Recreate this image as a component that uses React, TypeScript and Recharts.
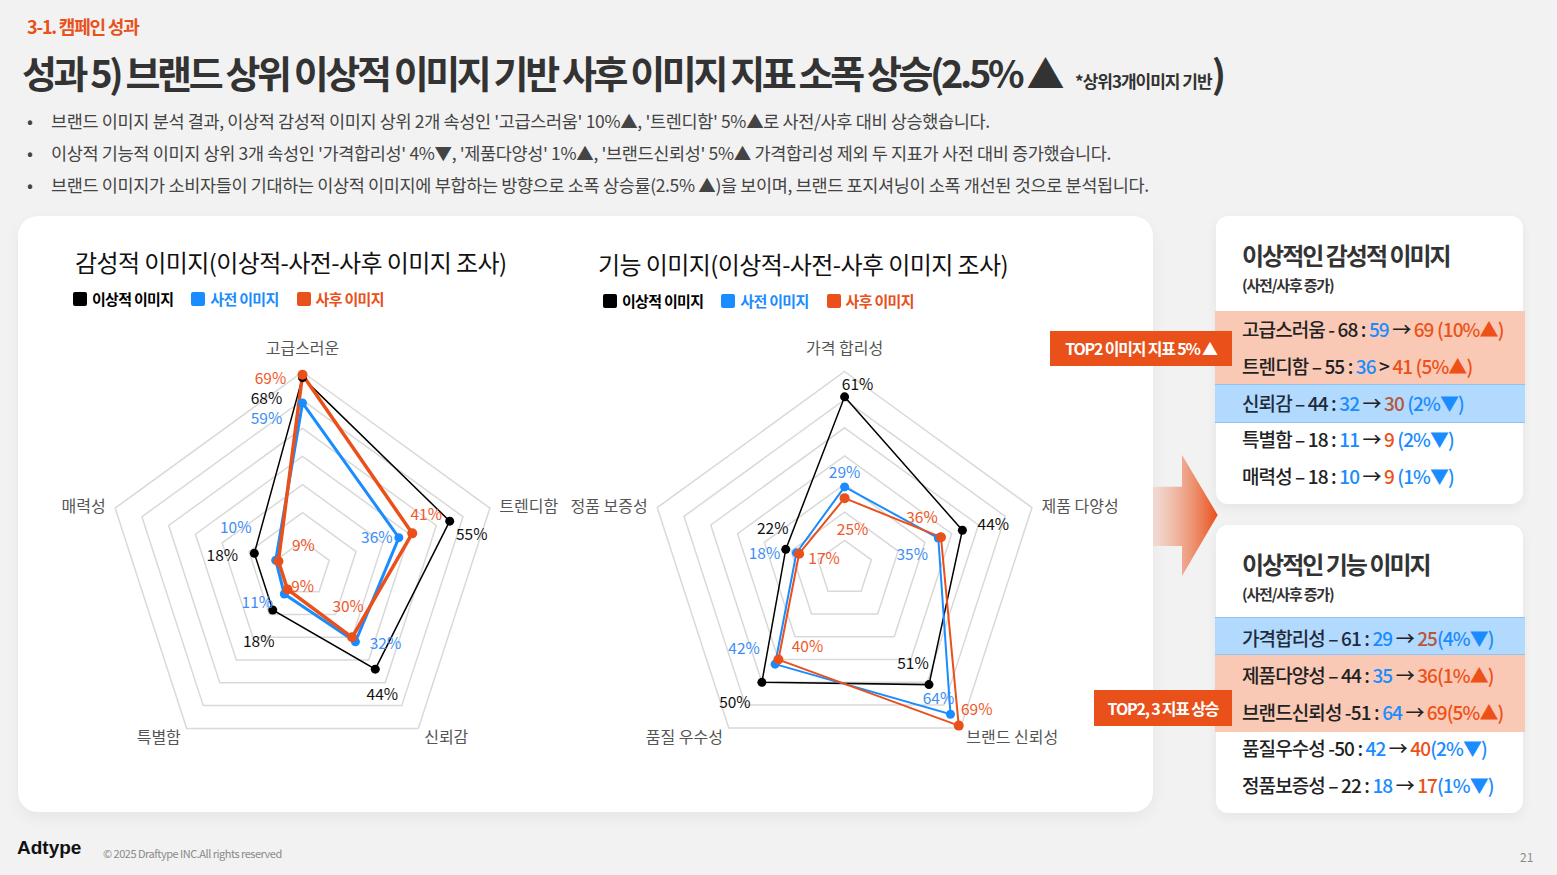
import React from 'react';
import { RadarChart, Radar, PolarGrid, PolarAngleAxis, PolarRadiusAxis } from 'recharts';

// ---------- DATA ----------
const emoCategories = ['고급스러운', '트렌디함', '신뢰감', '특별함', '매력성'];
const emoIdeal = [68, 55, 44, 18, 18];
const emoBefore = [59, 36, 32, 11, 10];
const emoAfter = [69, 41, 30, 9, 9];

const funcCategories = ['가격 합리성', '제품 다양성', '브랜드 신뢰성', '품질 우수성', '정품 보증성'];
const funcIdeal = [61, 44, 51, 50, 22];
const funcBefore = [29, 35, 64, 42, 18];
const funcAfter = [25, 36, 69, 40, 17];

const radiusDomain = [0, 70];

const seriesNames = ['이상적 이미지', '사전 이미지', '사후 이미지'];

// label nudges relative to each computed point (dx, dy)
const emoLabelNudge = {
  ideal: [[-36, 19], [22, 12], [7, 24], [-14, 30], [-32, 1]],
  before: [[-36, 14], [-22, -2], [30, 0], [-27, 7], [-40, -34]],
  after: [[-32, 2], [14, -20], [-4, -32], [15, -4], [25, -17]],
};
const funcLabelNudge = {
  ideal: [[13, -14], [31, -7], [-16, -23], [-27, 19], [-13, -22]],
  before: [[0, -16], [-26, 15], [-12, -17], [-31, -17], [-32, -1]],
  after: [[8, 30], [-19, -21], [18, -18], [29, -15], [25, 3]],
};

// ---------- STYLE ----------
const FONT = "'Noto Sans CJK KR', 'Noto Sans', sans-serif";
const C_BLACK = '#000000';
const C_BLUE = '#1A8CFF';
const C_ORANGE = '#E9501A';
const C_BLUE_TXT = '#3D8EF7';
const C_ORANGE_TXT = '#F0592A';

type RadarProps = {
  categories: string[];
  ideal: number[];
  before: number[];
  after: number[];
  nudge: any;
  left: number;
  top: number;
  width: number;
  height: number;
  cx: number;
  cy: number;
  widths: number[];
};

function RadarBlock(p: RadarProps) {
  const data = p.categories.map((c, i) => ({ name: c, ideal: p.ideal[i], before: p.before[i], after: p.after[i] }));

  const makeDot = (key: string, color: string, r: number, txtColor: string) => (props: any) => {
    const { cx, cy, index } = props;
    const n = p.nudge[key][index];
    const v = (data[index] as any)[key];
    return (
      <g key={`${key}-${index}`}>
        <circle cx={cx} cy={cy} r={r} fill={color} />
        <text x={cx + n[0]} y={cy + n[1]} textAnchor="middle" dominantBaseline="central" fill={txtColor} fontSize={15.5} fontFamily={FONT}>
          {v}%
        </text>
      </g>
    );
  };

  const AngleTick = (props: any) => {
    const { x, y, textAnchor, payload } = props;
    const isTop = textAnchor === 'middle' && y < p.cy;
    return (
      <text x={x} y={isTop ? y - 15 : y} textAnchor={textAnchor} dominantBaseline="central" fill="#555" fontSize={16} fontFamily={FONT}>
        {payload.value}
      </text>
    );
  };

  return (
    <div style={{ position: 'absolute', left: p.left, top: p.top, width: p.width, height: p.height }}>
      <RadarChart width={p.width} height={p.height} data={data} cx={p.cx} cy={p.cy} outerRadius={197} margin={{ top: 0, right: 0, bottom: 0, left: 0 }}>
        <PolarGrid gridType="polygon" radialLines={false} stroke="#D9D9D9" strokeWidth={1.5} />
        <PolarAngleAxis dataKey="name" tickSize={10} tickLine={false} axisLine={false} tick={<AngleTick />} />
        <PolarRadiusAxis domain={radiusDomain} tickCount={8} tick={false} axisLine={false} />
        <Radar name={seriesNames[0]} dataKey="ideal" stroke={C_BLACK} strokeWidth={p.widths[0]} fill="none" fillOpacity={0} isAnimationActive={false} dot={makeDot('ideal', C_BLACK, 4.5, '#111')} />
        <Radar name={seriesNames[1]} dataKey="before" stroke={C_BLUE} strokeWidth={p.widths[1]} fill="none" fillOpacity={0} isAnimationActive={false} dot={makeDot('before', C_BLUE, 4.5, C_BLUE_TXT)} />
        <Radar name={seriesNames[2]} dataKey="after" stroke={C_ORANGE} strokeWidth={p.widths[2]} fill="none" fillOpacity={0} isAnimationActive={false} dot={makeDot('after', C_ORANGE, 5, C_ORANGE_TXT)} />
      </RadarChart>
    </div>
  );
}

function Legend({ left, top }: { left: number; top: number }) {
  const items = [
    { label: seriesNames[0], color: C_BLACK, txt: '#000' },
    { label: seriesNames[1], color: C_BLUE, txt: C_BLUE },
    { label: seriesNames[2], color: C_ORANGE, txt: C_ORANGE },
  ];
  return (
    <div style={{ position: 'absolute', left, top, display: 'flex', alignItems: 'center', gap: 18, fontFamily: FONT }}>
      {items.map((it) => (
        <div key={it.label} style={{ display: 'flex', alignItems: 'center', gap: 5 }}>
          <div style={{ width: 14, height: 14, borderRadius: 2, background: it.color }} />
          <span style={{ fontSize: 15, fontWeight: 700, color: it.txt, letterSpacing: -0.7 }}>{it.label}</span>
        </div>
      ))}
    </div>
  );
}

type Seg = [string, string];
const DK = '#222';
const BL = '#1A8CFF';
const OR = '#EE5117';
const BR = '#B5573A';

const emoRows: { segs: Seg[] }[] = [
  { segs: [['고급스러움 - 68 : ', DK], ['59', BL], [' → ', DK], ['69 (10%▲)', OR]] },
  { segs: [['트렌디함 – 55 : ', DK], ['36', BL], [' > ', DK], ['41 (5%▲)', OR]] },
  { segs: [['신뢰감 – 44 : ', '#1E2B3A'], ['32', BL], [' → ', DK], ['30', BR], [' (2%▼)', BL]] },
  { segs: [['특별함 – 18 : ', DK], ['11', BL], [' → ', DK], ['9', OR], [' (2%▼)', BL]] },
  { segs: [['매력성 – 18 : ', DK], ['10', BL], [' → ', DK], ['9', OR], [' (1%▼)', BL]] },
];
const funcRows: { segs: Seg[] }[] = [
  { segs: [['가격합리성 – 61 : ', '#1E2B3A'], ['29', BL], [' → ', DK], ['25', BR], ['(4%▼)', BL]] },
  { segs: [['제품다양성 – 44 : ', DK], ['35', BL], [' → ', DK], ['36(1%▲)', OR]] },
  { segs: [['브랜드신뢰성 -51 : ', DK], ['64', BL], [' → ', DK], ['69(5%▲)', OR]] },
  { segs: [['품질우수성 -50 : ', DK], ['42', BL], [' → ', DK], ['40', OR], ['(2%▼)', BL]] },
  { segs: [['정품보증성 – 22 : ', DK], ['18', BL], [' → ', DK], ['17', OR], ['(1%▼)', BL]] },
];

function Panel({ top, title, rows, bands, rowTop }: { top: number; title: string; rows: { segs: Seg[] }[]; bands: { y: number; h: number; c: string; b?: string }[]; rowTop: number }) {
  return (
    <>
      <div style={{ position: 'absolute', left: 1216, top, width: 307, height: 288, background: '#fff', borderRadius: 12, boxShadow: '0 4px 12px rgba(0,0,0,0.06)' }} />
      {bands.map((b, i) => (
        <div key={i} style={{ position: 'absolute', left: 1215, top: b.y, width: 310, height: b.h, background: b.c, borderTop: b.b ? `1px solid ${b.b}` : undefined, borderBottom: b.b ? `1px solid ${b.b}` : undefined, boxSizing: 'border-box' }} />
      ))}
      <div style={{ position: 'absolute', left: 1242, top: top + 21, fontSize: 24, fontWeight: 700, color: '#333', letterSpacing: -2, fontFamily: FONT, whiteSpace: 'nowrap' }}>{title}</div>
      <div style={{ position: 'absolute', left: 1242, top: top + 58, fontSize: 15, fontWeight: 700, color: '#333', letterSpacing: -1.2, fontFamily: FONT, whiteSpace: 'nowrap' }}>(사전/사후 증가)</div>
      {rows.map((r, i) => (
        <div key={i} style={{ position: 'absolute', left: 1242, top: rowTop + i * 36.8 - 14, height: 28, lineHeight: '28px', fontSize: 19, fontWeight: 500, letterSpacing: -0.9, fontFamily: FONT, whiteSpace: 'nowrap' }}>
          {r.segs.map((s, j) => (
            <span key={j} style={{ color: s[1] }}>{s[0]}</span>
          ))}
        </div>
      ))}
    </>
  );
}

export default function App() {
  return (
    <div style={{ position: 'absolute', left: 0, top: 0, width: 1557, height: 875, background: '#F2F2F2', overflow: 'hidden', fontFamily: FONT }}>
      {/* header */}
      <div style={{ position: 'absolute', left: 27, top: 13, fontSize: 18, fontWeight: 700, color: '#E9501A', letterSpacing: -1.2, whiteSpace: 'nowrap' }}>3-1. 캠페인 성과</div>
      <div style={{ position: 'absolute', left: 22, top: 44, whiteSpace: 'nowrap', color: '#333', fontWeight: 700, display: 'flex', alignItems: 'baseline' }}>
        <span style={{ fontSize: 38, letterSpacing: -3.4 }}>성과 5) 브랜드 상위 이상적 이미지 기반 사후 이미지 지표 소폭 상승(2.5% ▲</span>
        <span style={{ fontSize: 17, letterSpacing: -1, marginLeft: 14 }}>*상위3개이미지 기반</span>
        <span style={{ fontSize: 38 }}>)</span>
      </div>
      {[
        "브랜드 이미지 분석 결과, 이상적 감성적 이미지 상위 2개 속성인 '고급스러움' 10%▲, '트렌디함' 5%▲로 사전/사후 대비 상승했습니다.",
        "이상적 기능적 이미지 상위 3개 속성인 '가격합리성' 4%▼, '제품다양성' 1%▲, '브랜드신뢰성' 5%▲ 가격합리성 제외 두 지표가 사전 대비 증가했습니다.",
        '브랜드 이미지가 소비자들이 기대하는 이상적 이미지에 부합하는 방향으로 소폭 상승률(2.5% ▲)을 보이며, 브랜드 포지셔닝이 소폭 개선된 것으로 분석됩니다.',
      ].map((t, i) => (
        <div key={i} style={{ position: 'absolute', left: 27, top: 109 + i * 32, height: 24, lineHeight: '24px', fontSize: 17.5, color: '#444', letterSpacing: -0.35, whiteSpace: 'nowrap' }}>
          <span style={{ display: 'inline-block', width: 24 }}>•</span>
          {t}
        </div>
      ))}

      {/* chart card */}
      <div style={{ position: 'absolute', left: 18, top: 216, width: 1135, height: 596, background: '#fff', borderRadius: 20, boxShadow: '0 6px 16px rgba(0,0,0,0.05)' }} />
      <div style={{ position: 'absolute', left: 75, top: 244, fontSize: 24, color: '#111', letterSpacing: -0.6, whiteSpace: 'nowrap' }}>감성적 이미지(이상적-사전-사후 이미지 조사)</div>
      <div style={{ position: 'absolute', left: 598, top: 246, fontSize: 24, color: '#111', letterSpacing: -0.6, whiteSpace: 'nowrap' }}>기능 이미지(이상적-사전-사후 이미지 조사)</div>
      <Legend left={73} top={288} />
      <Legend left={603} top={290} />

      <RadarBlock categories={emoCategories} ideal={emoIdeal} before={emoBefore} after={emoAfter} nudge={emoLabelNudge}
        left={20} top={320} width={560} height={480} cx={282.5} cy={249} widths={[1.5, 3, 3.5]} />
      <RadarBlock categories={funcCategories} ideal={funcIdeal} before={funcBefore} after={funcAfter} nudge={funcLabelNudge}
        left={560} top={320} width={580} height={480} cx={284.6} cy={248.5} widths={[1.5, 2, 2]} />

      {/* arrow */}
      <svg style={{ position: 'absolute', left: 1150, top: 440 }} width={75} height={145}>
        <defs>
          <linearGradient id="ag" x1="0" y1="0" x2="1" y2="0">
            <stop offset="0" stopColor="#F2CFC2" stopOpacity={0.6} />
            <stop offset="1" stopColor="#E9501A" />
          </linearGradient>
        </defs>
        <polygon points="3,46.7 32,46.7 32,15 67.7,75 32,136 32,106 3,106" fill="url(#ag)" />
      </svg>

      <Panel top={216} title="이상적인 감성적 이미지" rows={emoRows} rowTop={329}
        bands={[{ y: 311, h: 73, c: '#F9C9B5' }, { y: 384, h: 39, c: '#B2D9FE', b: '#8FC2F5' }]} />
      <Panel top={525} title="이상적인 기능 이미지" rows={funcRows} rowTop={638}
        bands={[{ y: 617, h: 38, c: '#B2D9FE', b: '#8FC2F5' }, { y: 655, h: 77, c: '#F9C9B5' }]} />

      {/* tags */}
      <div style={{ position: 'absolute', left: 1050, top: 331, width: 182, height: 35, background: '#E9501A', color: '#fff', fontSize: 16, fontWeight: 700, letterSpacing: -1.2, lineHeight: '35px', textAlign: 'center', whiteSpace: 'nowrap' }}>TOP2 이미지 지표 5% ▲</div>
      <div style={{ position: 'absolute', left: 1094, top: 690, width: 138, height: 36, background: '#E9501A', color: '#fff', fontSize: 16, fontWeight: 700, letterSpacing: -1.2, lineHeight: '36px', textAlign: 'center', whiteSpace: 'nowrap' }}>TOP2, 3 지표 상승</div>

      {/* footer */}
      <div style={{ position: 'absolute', left: 17, top: 837, fontSize: 19, fontWeight: 900, color: '#111', fontFamily: "'Liberation Sans', Arial, sans-serif", whiteSpace: 'nowrap' }}>Adtype</div>
      <div style={{ position: 'absolute', left: 103, top: 845, fontSize: 11, color: '#8A8A8A', letterSpacing: -0.5, whiteSpace: 'nowrap' }}>© 2025 Draftype INC.All rights reserved</div>
      <div style={{ position: 'absolute', left: 1520, top: 848, fontSize: 12, color: '#8A8A8A', whiteSpace: 'nowrap' }}>21</div>
    </div>
  );
}
